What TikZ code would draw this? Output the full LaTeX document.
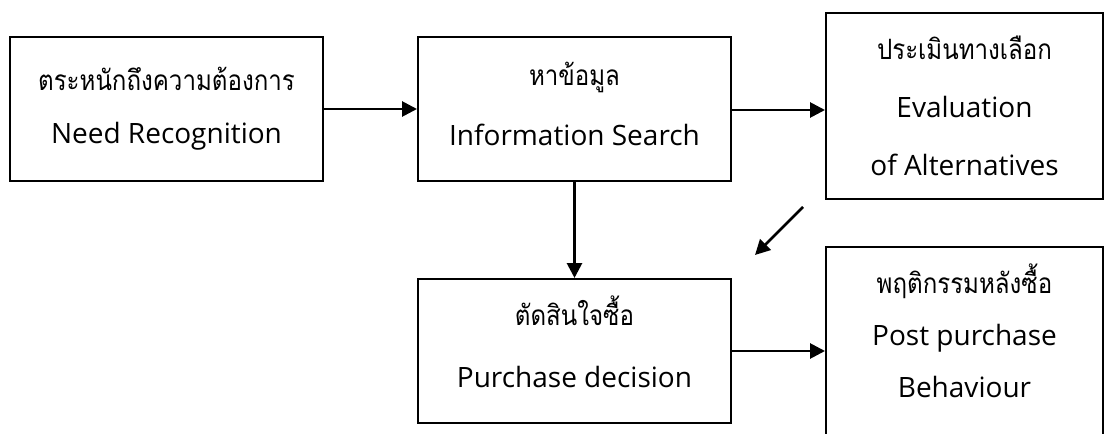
\documentclass[tikz,border=0pt]{standalone}
\usepackage{fontspec}
\setmainfont{Open Sans}
\newfontfamily\thai[Script=Thai,FakeStretch=0.86]{Loma}
\usetikzlibrary{arrows.meta}
\tikzset{
  box/.style={draw, line width=2pt, rectangle, inner sep=0pt, align=center,
    font=\fontsize{28}{32}\selectfont},
  txt/.style={align=center, inner sep=0pt, font=\fontsize{28}{32}\selectfont},
  arr/.style={line width=2.8pt, -{Triangle[length=15pt,width=15pt]}},
}
\newcommand{\TL}[1]{{\thai\fontsize{28}{32}\selectfont #1}}
\begin{document}
\begin{tikzpicture}[x=1pt,y=-1pt]
\useasboundingbox (0,0) rectangle (1104,434);
\clip (0,0) rectangle (1104,434);
\node[box, minimum width=313pt, minimum height=144pt] (need) at (166.5,109)
  {\TL{ตระหนักถึงความต้องการ}\\[21pt] Need Recognition};
\node[box, minimum width=313pt, minimum height=144pt] (info) at (574.5,109) {};
\node[txt] (infotext) at ([yshift=5pt]info.center)
  {\TL{หาข้อมูล}\\[28pt] Information Search};
\node[box, minimum width=277pt, minimum height=186pt] (eval) at (964.5,106)
  {\TL{ประเมินทางเลือก}\\[26pt] Evaluation\\[26pt] of Alternatives};
\node[box, minimum width=277pt, minimum height=200pt] (post) at (964.5,347) {};
\node[txt] (posttext) at (964.5,331)
  {\TL{พฤติกรรมหลังซื้อ}\\[20pt] Post purchase\\[20pt] Behaviour};
\node[box, minimum width=313pt, minimum height=144pt] (dec) at (574.5,351) {};
\node[txt] (dectext) at ([yshift=9pt]dec.center)
  {\TL{ตัดสินใจซื้อ}\\[30pt] Purchase decision};
\coordinate (dstart) at (803,207);
\coordinate (dend) at (755,255);
\draw[arr] (need.east) -- (info.west);
\draw[arr] (info.east |- 0,110) -- (eval.west |- 0,110);
\draw[arr] (info.south) -- (dec.north);
\draw[arr] (dec.east) -- (post.west |- dec.east);
\draw[arr] (dstart) -- (dend);
\end{tikzpicture}
\end{document}
